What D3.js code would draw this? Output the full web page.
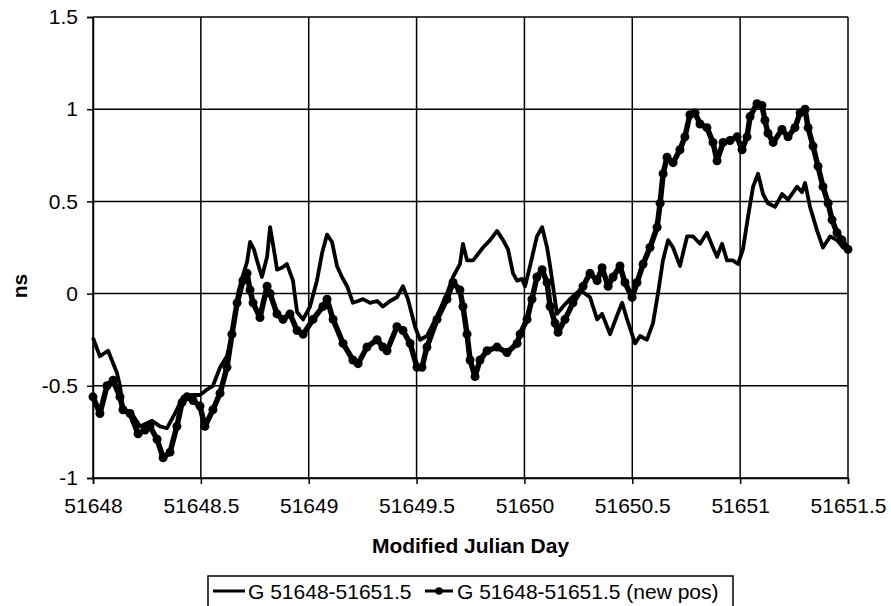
<!DOCTYPE html>
<html>
<head>
<meta charset="utf-8">
<script src="https://cdn.jsdelivr.net/npm/d3@7"></script>
<style>
  body { margin: 0; background: #fff; }
  text { font-family: "Liberation Sans", Arial, sans-serif; fill: #000; }
</style>
</head>
<body>
<div id="chart"></div>
<script>
// tick values
const xTicks = [51648, 51648.5, 51649, 51649.5, 51650, 51650.5, 51651, 51651.5];
const yTicks = [-1, -0.5, 0, 0.5, 1, 1.5];

const seriesNames = ["G 51648-51651.5", "G 51648-51651.5 (new pos)"];

// series 1 (plain line)
const mjd1 = [51648.000, 51648.032, 51648.070, 51648.111, 51648.125, 51648.139, 51648.185, 51648.218, 51648.274, 51648.311,
  51648.343, 51648.380, 51648.417, 51648.450, 51648.496, 51648.529, 51648.556, 51648.589, 51648.621, 51648.649,
  51648.672, 51648.695, 51648.714, 51648.728, 51648.746, 51648.760, 51648.783, 51648.807, 51648.821, 51648.844,
  51648.853, 51648.876, 51648.899, 51648.927, 51648.946, 51648.974, 51649.006, 51649.038, 51649.062, 51649.085,
  51649.108, 51649.131, 51649.154, 51649.178, 51649.205, 51649.229, 51649.252, 51649.284, 51649.317, 51649.344,
  51649.377, 51649.409, 51649.437, 51649.460, 51649.493, 51649.516, 51649.548, 51649.595, 51649.641, 51649.669,
  51649.701, 51649.715, 51649.734, 51649.762, 51649.808, 51649.841, 51649.873, 51649.901, 51649.924, 51649.947,
  51649.966, 51649.989, 51650.003, 51650.026, 51650.058, 51650.082, 51650.105, 51650.119, 51650.151, 51650.179,
  51650.211, 51650.258, 51650.304, 51650.337, 51650.360, 51650.397, 51650.429, 51650.453, 51650.476, 51650.513,
  51650.536, 51650.568, 51650.596, 51650.619, 51650.642, 51650.666, 51650.689, 51650.721, 51650.754, 51650.782,
  51650.814, 51650.846, 51650.874, 51650.893, 51650.916, 51650.939, 51650.967, 51650.990, 51651.013, 51651.037,
  51651.060, 51651.083, 51651.106, 51651.129, 51651.162, 51651.194, 51651.222, 51651.264, 51651.287, 51651.301,
  51651.324, 51651.357, 51651.384, 51651.417, 51651.449, 51651.477, 51651.500];
const ns1 = [-0.24, -0.34, -0.31, -0.43, -0.50, -0.62, -0.66, -0.72, -0.69, -0.72,
  -0.73, -0.65, -0.56, -0.55, -0.55, -0.52, -0.50, -0.40, -0.34, -0.20,
  0.00, 0.10, 0.17, 0.28, 0.24, 0.18, 0.09, 0.20, 0.36, 0.20,
  0.13, 0.14, 0.16, 0.07, -0.10, -0.14, -0.07, 0.07, 0.22, 0.32,
  0.28, 0.15, 0.09, 0.04, -0.05, -0.04, -0.03, -0.05, -0.04, -0.07,
  -0.04, -0.02, 0.04, -0.03, -0.18, -0.25, -0.23, -0.12, 0.00, 0.09,
  0.16, 0.27, 0.18, 0.18, 0.25, 0.29, 0.34, 0.29, 0.24, 0.11,
  0.07, 0.08, 0.04, 0.15, 0.31, 0.36, 0.25, 0.15, -0.11, -0.07,
  -0.03, 0.02, -0.02, -0.14, -0.11, -0.22, -0.12, -0.05, -0.14, -0.27,
  -0.23, -0.25, -0.16, 0.00, 0.18, 0.29, 0.25, 0.15, 0.31, 0.31,
  0.27, 0.33, 0.25, 0.20, 0.27, 0.18, 0.18, 0.16, 0.24, 0.42,
  0.58, 0.65, 0.54, 0.49, 0.47, 0.54, 0.51, 0.58, 0.55, 0.60,
  0.47, 0.34, 0.25, 0.31, 0.29, 0.25, 0.25];

// series 2 (line with dots, new position)
const mjd2 = [51648.000, 51648.032, 51648.065, 51648.093, 51648.125, 51648.139, 51648.172, 51648.209, 51648.241, 51648.264,
  51648.297, 51648.325, 51648.357, 51648.389, 51648.413, 51648.436, 51648.464, 51648.496, 51648.519, 51648.556,
  51648.589, 51648.621, 51648.644, 51648.668, 51648.695, 51648.714, 51648.728, 51648.742, 51648.774, 51648.807,
  51648.821, 51648.853, 51648.881, 51648.913, 51648.946, 51648.974, 51649.020, 51649.066, 51649.085, 51649.113,
  51649.159, 51649.205, 51649.229, 51649.270, 51649.317, 51649.344, 51649.363, 51649.409, 51649.437, 51649.470,
  51649.502, 51649.525, 51649.548, 51649.595, 51649.641, 51649.669, 51649.701, 51649.715, 51649.734, 51649.748,
  51649.771, 51649.794, 51649.827, 51649.873, 51649.919, 51649.966, 51649.980, 51650.012, 51650.035, 51650.058,
  51650.082, 51650.105, 51650.119, 51650.142, 51650.156, 51650.188, 51650.225, 51650.272, 51650.304, 51650.337,
  51650.360, 51650.388, 51650.411, 51650.443, 51650.466, 51650.499, 51650.522, 51650.550, 51650.582, 51650.615,
  51650.629, 51650.643, 51650.661, 51650.689, 51650.721, 51650.744, 51650.767, 51650.791, 51650.814, 51650.846,
  51650.874, 51650.893, 51650.921, 51650.953, 51650.986, 51651.009, 51651.032, 51651.046, 51651.078, 51651.101,
  51651.115, 51651.129, 51651.153, 51651.194, 51651.222, 51651.254, 51651.278, 51651.301, 51651.315, 51651.338,
  51651.361, 51651.384, 51651.408, 51651.426, 51651.449, 51651.472, 51651.500];
const ns2 = [-0.56, -0.65, -0.50, -0.47, -0.56, -0.63, -0.65, -0.76, -0.74, -0.72,
  -0.79, -0.89, -0.86, -0.72, -0.59, -0.56, -0.58, -0.61, -0.72, -0.63,
  -0.54, -0.40, -0.22, -0.05, 0.07, 0.11, 0.02, -0.05, -0.13, 0.04,
  0.00, -0.11, -0.14, -0.11, -0.20, -0.22, -0.14, -0.07, -0.03, -0.14,
  -0.27, -0.36, -0.38, -0.29, -0.25, -0.29, -0.31, -0.18, -0.20, -0.27,
  -0.40, -0.40, -0.29, -0.14, -0.03, 0.06, 0.02, -0.07, -0.22, -0.36,
  -0.45, -0.36, -0.31, -0.29, -0.32, -0.27, -0.22, -0.14, -0.03, 0.09,
  0.13, 0.06, -0.07, -0.16, -0.21, -0.14, -0.05, 0.04, 0.11, 0.07,
  0.14, 0.04, 0.09, 0.15, 0.06, -0.02, 0.06, 0.16, 0.25, 0.36,
  0.49, 0.65, 0.74, 0.71, 0.78, 0.85, 0.97, 0.98, 0.92, 0.90,
  0.82, 0.72, 0.82, 0.83, 0.85, 0.78, 0.85, 0.96, 1.03, 1.02,
  0.94, 0.87, 0.82, 0.89, 0.85, 0.90, 0.98, 1.00, 0.90, 0.80,
  0.69, 0.58, 0.49, 0.40, 0.33, 0.29, 0.24];

const width = 891, height = 606;
const margin = {left: 93, right: 43, top: 17, bottom: 128};

const svg = d3.select("#chart").append("svg")
  .attr("width", width)
  .attr("height", height);

const x = d3.scaleLinear().domain([51648, 51651.5]).range([margin.left, width - margin.right]);
const y = d3.scaleLinear().domain([-1, 1.5]).range([height - margin.bottom, margin.top]);

// grid lines
svg.append("g").selectAll("line").data(xTicks).enter().append("line")
  .attr("x1", d => x(d)).attr("x2", d => x(d))
  .attr("y1", y(1.5)).attr("y2", y(-1))
  .attr("stroke", "#000").attr("stroke-width", 1.5);
svg.append("g").selectAll("line").data(yTicks).enter().append("line")
  .attr("x1", x(51648)).attr("x2", x(51651.5))
  .attr("y1", d => y(d)).attr("y2", d => y(d))
  .attr("stroke", "#000").attr("stroke-width", 1.5);

// axes
const xAxis = svg.append("g")
  .attr("transform", `translate(0,${y(-1)})`)
  .call(d3.axisBottom(x).tickValues(xTicks).tickSize(6).tickPadding(14).tickFormat(d3.format("")));
const yAxis = svg.append("g")
  .attr("transform", `translate(${x(51648)},0)`)
  .call(d3.axisLeft(y).tickValues(yTicks).tickSize(6).tickPadding(9).tickFormat(d => d));
[xAxis, yAxis].forEach(a => {
  a.select(".domain").attr("stroke", "#000").attr("stroke-width", 1.5);
  a.selectAll(".tick line").attr("stroke", "#000").attr("stroke-width", 1.5);
  a.selectAll("text").style("font-size", "21px").attr("fill", "#000");
});

// series
const line = d3.line().x(d => x(d[0])).y(d => y(d[1]));
const pts1 = mjd1.map((m, i) => [m, ns1[i]]);
const pts2 = mjd2.map((m, i) => [m, ns2[i]]);

svg.append("path").datum(pts1).attr("d", line)
  .attr("fill", "none").attr("stroke", "#000").attr("stroke-width", 3.8)
  .attr("stroke-linejoin", "round");
svg.append("path").datum(pts2).attr("d", line)
  .attr("fill", "none").attr("stroke", "#000").attr("stroke-width", 5.5)
  .attr("stroke-linejoin", "round");
svg.append("g").selectAll("circle").data(pts2).enter().append("circle")
  .attr("cx", d => x(d[0])).attr("cy", d => y(d[1])).attr("r", 4.5).attr("fill", "#000");

// axis titles
svg.append("text")
  .attr("x", (x(51648) + x(51651.5)) / 2).attr("y", 553)
  .attr("text-anchor", "middle").style("font-size", "21px").style("font-weight", "bold")
  .text("Modified Julian Day");
svg.append("text")
  .attr("transform", "translate(27,286) rotate(-90)")
  .attr("text-anchor", "middle").style("font-size", "21px").style("font-weight", "bold")
  .text("ns");

// legend
const lg = svg.append("g");
lg.append("rect").attr("x", 208).attr("y", 576).attr("width", 525).attr("height", 40)
  .attr("fill", "#fff").attr("stroke", "#000").attr("stroke-width", 1.5);
lg.append("line").attr("x1", 213).attr("x2", 245).attr("y1", 591).attr("y2", 591)
  .attr("stroke", "#000").attr("stroke-width", 3);
lg.append("text").attr("x", 248).attr("y", 599).style("font-size", "21px").text(seriesNames[0]);
lg.append("line").attr("x1", 425).attr("x2", 453).attr("y1", 591).attr("y2", 591)
  .attr("stroke", "#000").attr("stroke-width", 3);
lg.append("circle").attr("cx", 439).attr("cy", 591).attr("r", 3.8).attr("fill", "#000");
lg.append("text").attr("x", 457).attr("y", 599).style("font-size", "21px").text(seriesNames[1]);
</script>
</body>
</html>
